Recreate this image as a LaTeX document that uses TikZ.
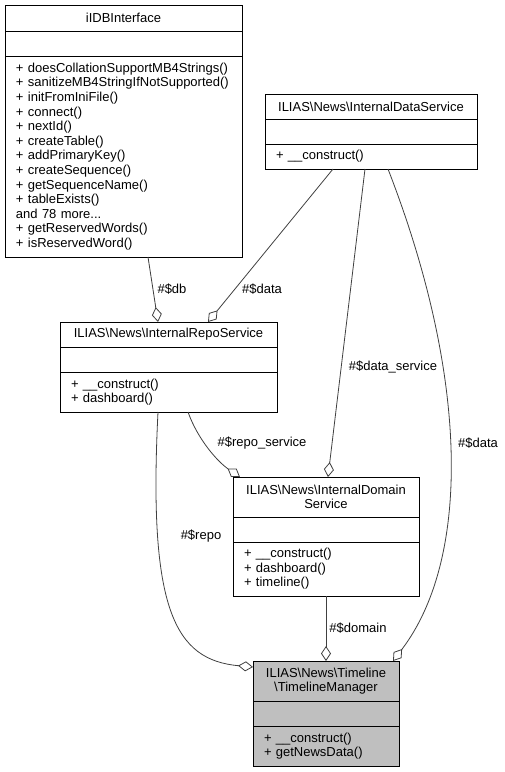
\documentclass[tikz,border=0pt]{standalone}
\usepackage{fontspec}
\setmainfont{Liberation Sans}
\usetikzlibrary{positioning,arrows.meta}
\definecolor{edgegray}{HTML}{404040}
\definecolor{maingray}{HTML}{BFBFBF}

\begin{document}
\begin{tikzpicture}[x=1pt,y=-1pt,
    font=\fontsize{13}{14.6}\selectfont,
    clsbox/.style={draw=black,line width=0.8pt,fill=white,inner xsep=11pt,inner ysep=0pt,outer sep=0pt,anchor=north},
    clstitle/.style={clsbox,align=center},
    clsmeth/.style={clsbox,align=left},
    agg/.style={draw=edgegray,line width=0.8pt,-{Diamond[open,length=15pt,width=10pt]}},
    lbl/.style={inner sep=0pt}]
    \useasboundingbox (0,0) rectangle (505,772);

    % I
    \node[clstitle,text width=215pt,minimum height=26pt] (idb) at (123.5,5) {iIDBInterface};
    \node[clsbox,text width=215pt,minimum height=25pt,below=0pt of idb] (idb-a) {};
    \node[clsmeth,text width=215pt,minimum height=201pt,below=0pt of idb-a] (idb-m) {+ doesCollationSupportMB4Strings()\\+ sanitizeMB4StringIfNotSupported()\\+ initFromIniFile()\\+ connect()\\+ nextId()\\+ createTable()\\+ addPrimaryKey()\\+ createSequence()\\+ getSequenceName()\\+ tableExists()\\and 78 more...\\+ getReservedWords()\\+ isReservedWord()};

    \node[clstitle,text width=190pt,minimum height=25pt] (data) at (371,94) {ILIAS\textbackslash News\textbackslash InternalDataService};
    \node[clsbox,text width=190pt,minimum height=25pt,below=0pt of data] (data-a) {};
    \node[clsmeth,text width=190pt,minimum height=25pt,below=0pt of data-a] (data-m) {+ \_\_construct()};

    % II
    \node[clstitle,text width=195pt,minimum height=25pt] (repo) at (168.5,322) {ILIAS\textbackslash News\textbackslash InternalRepoService};
    \node[clsbox,text width=195pt,minimum height=25pt,below=0pt of repo] (repo-a) {};
    \node[clsmeth,text width=195pt,minimum height=40pt,below=0pt of repo-a] (repo-m) {+ \_\_construct()\\+ dashboard()};

    \node[clstitle,text width=164pt,minimum height=40pt] (domain) at (326,477) {ILIAS\textbackslash News\textbackslash InternalDomain\\Service};
    \node[clsbox,text width=164pt,minimum height=25pt,below=0pt of domain] (domain-a) {};
    \node[clsmeth,text width=164pt,minimum height=54pt,below=0pt of domain-a] (domain-m) {+ \_\_construct()\\+ dashboard()\\+ timeline()};

    % III
    \node[clstitle,fill=maingray,text width=124pt,minimum height=40pt] (tl) at (326,661) {ILIAS\textbackslash News\textbackslash Timeline\\\textbackslash TimelineManager};
    \node[clsbox,fill=maingray,text width=124pt,minimum height=25pt,below=0pt of tl] (tl-a) {};
    \node[clsmeth,fill=maingray,text width=124pt,minimum height=40pt,below=0pt of tl-a] (tl-m) {+ \_\_construct()\\+ getNewsData()};

    % connectors
    \draw[agg] ([xshift=24.5pt]idb-m.south) -- ([xshift=-10.5pt]repo.north);
    \draw[agg] ([xshift=-38pt]data-m.south) -- ([xshift=39.5pt]repo.north);
    \draw[agg] ([xshift=-6pt]data-m.south) -- ([xshift=2pt]domain.north);
    \draw[agg] ([xshift=17pt]data-m.south) .. controls (470,380) and (470,560) .. ([xshift=67pt]tl.north);
    \draw[agg] ([xshift=19.5pt]repo-m.south) .. controls (198,440) and (218,462) .. ([xshift=-86pt]domain.north);
    \draw[agg] ([xshift=-10.5pt]repo-m.south) .. controls (148,610) and (175,660) .. ([yshift=-6pt]tl.north west);
    \draw[agg] (domain-m.south) -- (tl.north);

    \node[lbl] (l-db) at (172,289) {\#\$db};
    \node[lbl] (l-data) at (262,289) {\#\$data};
    \node[lbl] (l-dsrv) at (393,367) {\#\$data\_service};
    \node[lbl] (l-rsrv) at (262,443) {\#\$repo\_service};
    \node[lbl] (l-data2) at (478,443) {\#\$data};
    \node[lbl] (l-repo) at (201,536) {\#\$repo};
    \node[lbl] (l-dom) at (358,628) {\#\$domain};
\end{tikzpicture}
\end{document}
